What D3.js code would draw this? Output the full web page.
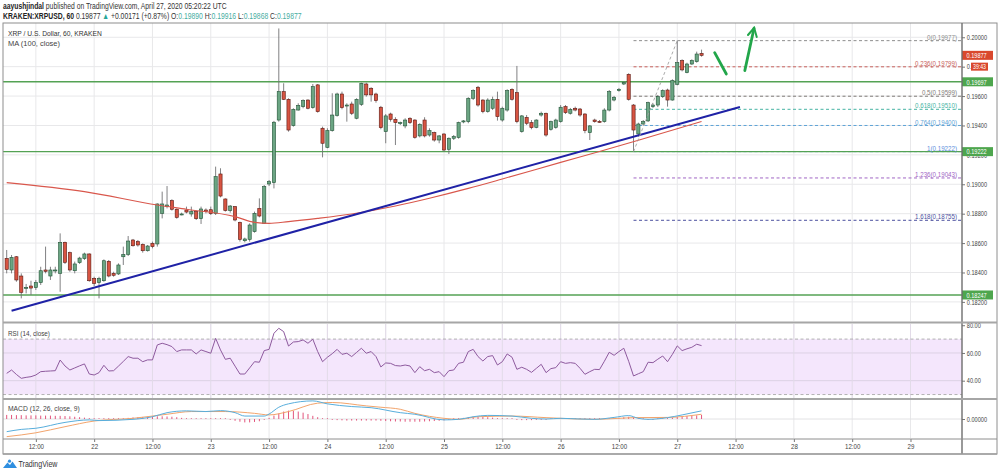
<!DOCTYPE html>
<html>
<head>
<meta charset="utf-8">
<script src="https://cdnjs.cloudflare.com/ajax/libs/d3/7.8.5/d3.min.js"></script>
<style>
  body { margin: 0; background: #fff; }
  svg { display: block; }
  text { font-family: "Liberation Sans", Arial, sans-serif; }
</style>
</head>
<body>
<svg id="chart" width="1000" height="474"></svg>
<script>
// hourly candles, first one is 2020-04-21 06:00 UTC
const firstCandle = Date.UTC(2020, 3, 21, 6);

const opens = [
  0.18496,0.18417,0.18507,0.18376,0.18292,0.18308,0.18297,0.18331,0.18417,0.18376,
  0.18412,0.18394,0.18605,0.18535,0.18412,0.18467,0.18494,0.18526,0.18360,0.18331,
  0.18344,0.18476,0.18394,0.18390,0.18507,0.18523,0.18621,0.18610,0.18591,0.18548,
  0.18598,0.18594,0.18802,0.18848,0.18889,0.18830,0.18798,0.18825,0.18798,0.18814,
  0.18766,0.18825,0.18827,0.18802,0.19070,0.18900,0.18821,0.18848,0.18741,0.18616,
  0.18625,0.18678,0.18836,0.18734,0.19002,0.19011,0.19437,0.19630,0.19578,0.19399,
  0.19505,0.19528,0.19573,0.19521,0.19676,0.19381,0.19251,0.19365,0.19469,0.19614,
  0.19535,0.19546,0.19449,0.19544,0.19682,0.19653,0.19614,0.19524,0.19358,0.19478,
  0.19442,0.19415,0.19397,0.19449,0.19437,0.19329,0.19437,0.19335,0.19351,0.19301,
  0.19342,0.19238,0.19313,0.19319,0.19424,0.19426,0.19585,0.19660,0.19573,0.19494,
  0.19517,0.19578,0.19437,0.19505,0.19646,0.19623,0.19358,0.19455,0.19419,0.19387,
  0.19471,0.19483,0.19374,0.19387,0.19426,0.19528,0.19483,0.19517,0.19512,0.19478,
  0.19351,0.19437,0.19428,0.19426,0.19505,0.19573,0.19637,0.19682,0.19748,0.19539,
  0.19342,0.19410,0.19431,0.19528,0.19539,0.19596,0.19641,0.19573,0.19680,0.19841,
  0.19759,0.19818,0.19834,0.19890
];
const highs = [
  0.18553,0.18519,0.18512,0.18394,0.18322,0.18344,0.18349,0.18439,0.18576,0.18439,
  0.18439,0.18666,0.18610,0.18542,0.18474,0.18507,0.18535,0.18530,0.18371,0.18371,
  0.18489,0.18485,0.18405,0.18462,0.18576,0.18648,0.18628,0.18621,0.18598,0.18587,
  0.18610,0.18870,0.18950,0.18988,0.18898,0.18836,0.18807,0.18848,0.18848,0.18821,
  0.18848,0.18836,0.18848,0.19120,0.19109,0.18904,0.18859,0.18852,0.18746,0.18637,
  0.18734,0.18814,0.18904,0.18995,0.19029,0.19431,0.20060,0.19687,0.19585,0.19517,
  0.19551,0.19578,0.19578,0.19682,0.19682,0.19392,0.19381,0.19619,0.19623,0.19630,
  0.19551,0.19562,0.19585,0.19691,0.19691,0.19660,0.19623,0.19533,0.19478,0.19487,
  0.19456,0.19426,0.19449,0.19456,0.19442,0.19415,0.19456,0.19381,0.19358,0.19335,
  0.19347,0.19319,0.19335,0.19426,0.19437,0.19592,0.19646,0.19669,0.19578,0.19585,
  0.19596,0.19630,0.19528,0.19646,0.19653,0.19805,0.19471,0.19471,0.19437,0.19442,
  0.19494,0.19487,0.19433,0.19446,0.19539,0.19539,0.19519,0.19528,0.19519,0.19483,
  0.19403,0.19446,0.19437,0.19517,0.19641,0.19601,0.19655,0.19700,0.19755,0.19546,
  0.19419,0.19437,0.19562,0.19551,0.19607,0.19646,0.19650,0.19714,0.19977,0.19850,
  0.19827,0.19850,0.19902,0.19916
];
const lows = [
  0.18394,0.18394,0.18337,0.18224,0.18258,0.18247,0.18281,0.18315,0.18394,0.18349,
  0.18394,0.18269,0.18458,0.18405,0.18394,0.18458,0.18485,0.18337,0.18308,0.18224,
  0.18337,0.18367,0.18371,0.18383,0.18451,0.18512,0.18576,0.18576,0.18535,0.18542,
  0.18564,0.18576,0.18768,0.18836,0.18821,0.18766,0.18789,0.18802,0.18780,0.18757,
  0.18730,0.18802,0.18791,0.18791,0.18911,0.18814,0.18807,0.18748,0.18610,0.18605,
  0.18610,0.18671,0.18775,0.18730,0.18988,0.18972,0.19426,0.19573,0.19358,0.19392,
  0.19501,0.19517,0.19510,0.19514,0.19487,0.19183,0.19245,0.19358,0.19460,0.19510,
  0.19426,0.19471,0.19442,0.19533,0.19596,0.19562,0.19555,0.19374,0.19279,0.19426,
  0.19267,0.19403,0.19381,0.19410,0.19310,0.19319,0.19319,0.19324,0.19290,0.19279,
  0.19222,0.19206,0.19301,0.19310,0.19415,0.19415,0.19573,0.19528,0.19483,0.19487,
  0.19505,0.19433,0.19426,0.19494,0.19569,0.19415,0.19351,0.19403,0.19374,0.19381,
  0.19460,0.19324,0.19365,0.19378,0.19419,0.19478,0.19474,0.19496,0.19460,0.19347,
  0.19301,0.19419,0.19419,0.19419,0.19496,0.19564,0.19630,0.19675,0.19569,0.19222,
  0.19324,0.19401,0.19424,0.19519,0.19525,0.19587,0.19528,0.19569,0.19673,0.19768,
  0.19755,0.19812,0.19827,0.19868
];
const closes = [
  0.18421,0.18503,0.18349,0.18265,0.18299,0.18294,0.18331,0.18412,0.18408,0.18417,
  0.18417,0.18605,0.18469,0.18417,0.18458,0.18498,0.18526,0.18344,0.18326,0.18360,
  0.18480,0.18376,0.18381,0.18451,0.18523,0.18614,0.18582,0.18587,0.18548,0.18580,
  0.18576,0.18866,0.18866,0.18859,0.18830,0.18775,0.18798,0.18811,0.18814,0.18766,
  0.18832,0.18814,0.18800,0.19052,0.18920,0.18821,0.18852,0.18757,0.18625,0.18628,
  0.18723,0.18802,0.18784,0.18984,0.19018,0.19422,0.19630,0.19578,0.19369,0.19510,
  0.19537,0.19569,0.19517,0.19664,0.19494,0.19279,0.19365,0.19471,0.19614,0.19521,
  0.19539,0.19483,0.19578,0.19687,0.19608,0.19608,0.19569,0.19385,0.19465,0.19442,
  0.19419,0.19419,0.19437,0.19419,0.19319,0.19408,0.19329,0.19365,0.19301,0.19329,
  0.19233,0.19313,0.19324,0.19419,0.19431,0.19585,0.19637,0.19539,0.19494,0.19573,
  0.19578,0.19460,0.19517,0.19637,0.19578,0.19426,0.19465,0.19415,0.19385,0.19437,
  0.19483,0.19335,0.19426,0.19437,0.19524,0.19487,0.19510,0.19505,0.19471,0.19365,
  0.19397,0.19426,0.19426,0.19505,0.19630,0.19592,0.19646,0.19691,0.19578,0.19369,
  0.19410,0.19426,0.19555,0.19539,0.19596,0.19637,0.19573,0.19705,0.19827,0.19778,
  0.19818,0.19841,0.19886,0.19877
];

// MA(100) at some candle indexes
const maIdx = [0,16,31,37,47,51,54,58,64,71,80,87,95,102,114,122,130,143];
const maVal = [0.19011,0.18950,0.18859,0.18830,0.18780,0.18741,0.18734,0.18746,0.18768,
  0.18798,0.18852,0.18905,0.18972,0.19036,0.19149,0.19223,0.19299,0.19427];

// RSI(14), one value per candle
const rsi = [
  45.3,47.7,44.5,41.7,42.4,42.9,44.1,46.5,46.8,47.0,
  47.2,54.9,50.6,47.7,49.2,50.7,52.1,44.8,44.1,45.8,
  51.1,47.0,47.2,50.5,53.9,57.4,56.2,56.2,53.7,55.0,
  55.0,65.8,67.0,66.0,64.6,61.0,62.2,62.2,62.2,59.3,
  62.2,61.0,59.8,70.6,62.2,55.4,56.2,50.5,44.8,44.8,
  49.2,53.7,53.3,61.7,62.6,74.2,77.8,75.4,65.0,67.9,
  68.2,69.4,67.0,69.9,61.0,53.7,56.9,59.5,62.6,59.0,
  59.8,57.4,60.4,63.4,59.8,61.0,57.4,49.9,52.8,52.5,
  50.9,50.6,51.3,50.6,45.8,50.1,47.2,48.2,45.8,46.5,
  42.9,47.2,47.7,52.5,53.3,61.0,62.6,57.4,54.2,57.4,
  58.1,51.3,53.7,59.3,56.9,48.2,49.7,48.2,46.0,48.9,
  51.8,45.8,48.7,49.4,53.7,52.5,53.0,52.5,48.9,44.6,
  46.5,48.2,48.0,54.0,60.5,58.3,61.0,63.4,54.0,43.4,
  45.0,46.5,53.3,53.0,55.5,57.8,53.7,59.0,65.1,61.7,
  63.0,64.1,66.3,65.3
];

// MACD(12,26,9) lines read at some candle indexes, histogram per candle
const macdIdx = [0,3,6,12,17,19,26,30,33,37,41,44,47,49,53,54,56,58,63,66,71,75,81,84,
  90,93,96,99,104,108,111,114,118,121,125,128,130,132,136,139,143];
const macdVal = [-0.00056,-0.00046,-0.00041,-0.00015,-0.00004,-0.00007,-0.000015,0.00010,
  0.00028,0.00036,0.00033,0.00037,0.00028,0.00013,0.00013,0.00022,0.00052,0.00067,0.00080,
  0.00067,0.00055,0.00050,0.00028,0.00021,-0.00004,-0.000015,0.00010,0.00016,0.00013,
  0.00003,0.00000,0.00003,0.00000,-0.000015,0.00007,0.00015,0.00003,-0.000015,0.00006,
  0.00018,0.00036];
const signalIdx = [0,6,12,18,26,33,38,45,51,54,58,64,67,74,77,81,84,90,93,97,104,111,114,
  121,126,129,136,143];
const signalVal = [-0.00078,-0.00061,-0.00034,-0.00009,0.00003,0.00021,0.00033,0.00033,
  0.00025,0.00018,0.00033,0.00070,0.00073,0.00058,0.00052,0.00043,0.00025,0.00003,
  -0.000015,0.00010,0.00013,0.00006,0.00003,-0.000015,0.00003,0.00006,0.00007,0.00021];
const hist = [
  18,18,17,17,16,16,16,15,15,15,14,
  14,13,12,10,8,6,4,
  2,2,1,1,1,2,2,
  5,7,8,9,10,11,12,12,11,10,8,
  5,3,1,0,-1,-1,-2,-1,0,-2,-4,
  -8,-12,-15,-15,-13,-10,
  -4,5,15,25,33,37,36,33,28,22,14,
  8,2,-2,-4,-5,-6,-7,-7,-7,-7,-7,-7,-7,-8,-9,-10,-11,
  -11,-12,-12,-12,-12,-11,-10,-9,-8,-6,
  -4,-2,1,5,8,10,10,9,8,6,
  3,0,-2,-3,-4,-5,-5,-5,-4,-4,-4,-3,-2,
  -1,-1,0,0,1,1,1,0,1,2,3,4,5,
  8,10,8,2,-3,-4,-4,
  -2,1,4,6,9,11,13,15,16,18
].map(v => v * 1e-5);

// horizontal support / resistance lines
const levels = [0.19697, 0.19222, 0.18247];

// fib retracement drawn from the low (candle 129) to the high (candle 138)
const fibFrom = 129, fibTo = 138;
const fibLevels = ['0', '0.236', '0.5', '0.618', '0.764', '1', '1.236', '1.618'];
const fibPrices = [0.19977, 0.19799, 0.19599, 0.19510, 0.19400, 0.19222, 0.19043, 0.18755];
const fibColors = ['#8d8d8d', '#c8605a', '#7e7a76', '#45b3a3', '#5ea3d6', '#5b8edc', '#a066c4', '#4b4f9e'];

// trend line and the two green arrows (candle index, price)
const trend = [[1, 0.18140], [150.9, 0.19526]];
const arrows = [
  { pts: [[145.7, 0.19895], [148.1, 0.19750]], head: false },
  { pts: [[151.9, 0.19773], [153.8, 0.20061]], head: true }
];

const priceTicks = [0.182, 0.184, 0.186, 0.188, 0.190, 0.192, 0.194, 0.196, 0.198, 0.200];
const lastPrice = 0.19877;
const countdown = '39:43';

// ---------------------------------------------------------------
const svg = d3.select('#chart');
const L = 3, R = 962;
const mainTop = 23, mainBot = 321;
const rsiTop = 324, rsiBot = 398;
const macdTop = 400, macdBot = 438;

const tAt = i => new Date(firstCandle + i * 3600e3);
const x = d3.scaleUtc().domain([tAt(-0.76), tAt(196.6)]).range([L, R]);
const y = d3.scaleLinear().domain([0.18070, 0.20097]).range([mainBot, mainTop]);
const yR = d3.scaleLinear().domain([27.5, 80.9]).range([rsiBot, rsiTop]);
const yM = d3.scaleLinear().domain([-0.00084, 0.00084]).range([macdBot, macdTop]);
const xi = i => x(tAt(i));

const defs = svg.append('defs');
[['clipMain', mainTop, mainBot], ['clipRsi', rsiTop, rsiBot], ['clipMacd', macdTop, macdBot]].forEach(c => {
  defs.append('clipPath').attr('id', c[0]).append('rect')
    .attr('x', L).attr('y', c[1]).attr('width', R - L).attr('height', c[2] - c[1]);
});
defs.append('marker').attr('id', 'head').attr('viewBox', '0 0 10 10')
  .attr('refX', 8).attr('refY', 5).attr('markerWidth', 4).attr('markerHeight', 4)
  .attr('orient', 'auto')
  .append('path').attr('d', 'M1,1 L8.5,5 L1,9').attr('fill', 'none')
  .attr('stroke', '#22a64a').attr('stroke-width', 1.8).attr('stroke-linecap', 'round');

svg.append('rect').attr('width', 1000).attr('height', 474).attr('fill', '#fff');

// squeezed text helper, the screenshot text is narrow
function label(parent, px, py, str, o = {}) {
  const g = parent.append('g');
  const t = g.append('text')
    .attr('font-size', o.size || 7)
    .attr('fill', o.color || '#444')
    .attr('font-weight', o.weight || 'normal')
    .attr('text-anchor', o.anchor || 'start')
    .attr('dominant-baseline', 'central')
    .text(str);
  let k = o.sx || 0.82;
  if (o.width) k = o.width / t.node().getComputedTextLength();
  g.attr('transform', `translate(${px},${py}) scale(${k},1)`);
  return g;
}

// grid
const timeTicks = d3.utcHour.every(12).range(tAt(-0.76), tAt(196.6));
const grid = svg.append('g').attr('stroke', '#e8e8ea').attr('stroke-width', 1);
[[mainTop, mainBot], [rsiTop, rsiBot], [macdTop, macdBot]].forEach(p => {
  grid.selectAll(null).data(timeTicks).enter().append('line')
    .attr('x1', d => x(d)).attr('x2', d => x(d)).attr('y1', p[0]).attr('y2', p[1]);
});
grid.selectAll(null).data(priceTicks).enter().append('line')
  .attr('x1', L).attr('x2', R).attr('y1', d => y(d)).attr('y2', d => y(d));

// ---------------- main pane
const main = svg.append('g').attr('clip-path', 'url(#clipMain)');

fibPrices.forEach((p, k) => {
  main.append('line').attr('x1', xi(fibFrom)).attr('x2', R)
    .attr('y1', y(p)).attr('y2', y(p))
    .attr('stroke', fibColors[k]).attr('stroke-width', 1).attr('stroke-dasharray', '3,2.5');
});

main.selectAll(null).data(levels).enter().append('line')
  .attr('x1', L).attr('x2', R).attr('y1', d => y(d)).attr('y2', d => y(d))
  .attr('stroke', '#54a254').attr('stroke-width', 1.4);

const candles = d3.range(closes.length).map(i => ({
  i, o: opens[i], h: highs[i], l: lows[i], c: closes[i]
}));
const bw = 3.2;
const cg = main.append('g');
cg.selectAll('line.wick').data(candles).enter().append('line')
  .attr('x1', d => xi(d.i)).attr('x2', d => xi(d.i))
  .attr('y1', d => y(d.h)).attr('y2', d => y(d.l))
  .attr('stroke', '#737375').attr('stroke-width', 0.9);
cg.selectAll('rect.body').data(candles).enter().append('rect')
  .attr('x', d => xi(d.i) - bw / 2)
  .attr('y', d => y(Math.max(d.o, d.c)))
  .attr('width', bw)
  .attr('height', d => Math.max(1, Math.abs(y(d.o) - y(d.c))))
  .attr('fill', d => d.c >= d.o ? '#6ba583' : '#d75442')
  .attr('stroke', d => d.c >= d.o ? '#225437' : '#5b1a13')
  .attr('stroke-width', 0.6);

main.append('path')
  .datum(maIdx.map((d, k) => [d, maVal[k]]))
  .attr('fill', 'none').attr('stroke', '#d9574c').attr('stroke-width', 1.1)
  .attr('d', d3.line().x(d => xi(d[0])).y(d => y(d[1])).curve(d3.curveMonotoneX));

main.append('path').datum(trend)
  .attr('fill', 'none').attr('stroke', '#1f22a6').attr('stroke-width', 2)
  .attr('d', d3.line().x(d => xi(d[0])).y(d => y(d[1])));

main.append('line')
  .attr('x1', xi(fibFrom)).attr('y1', y(fibPrices[5]))
  .attr('x2', xi(fibTo)).attr('y2', y(fibPrices[0]))
  .attr('stroke', '#a0a0a0').attr('stroke-width', 0.9).attr('stroke-dasharray', '3,2.5');

arrows.forEach(a => {
  main.append('path').datum(a.pts)
    .attr('fill', 'none').attr('stroke', '#22a64a').attr('stroke-width', 2.8)
    .attr('stroke-linecap', 'round')
    .attr('marker-end', a.head ? 'url(#head)' : null)
    .attr('d', d3.line().x(d => xi(d[0])).y(d => y(d[1])));
});

fibPrices.forEach((p, k) => {
  label(svg, 957, y(p) - 3.6, `${fibLevels[k]}(${p.toFixed(5)})`,
    { anchor: 'end', color: fibColors[k], sx: 0.86, size: 7.2 });
});

// ---------------- RSI pane
const rp = svg.append('g').attr('clip-path', 'url(#clipRsi)');
rp.append('rect').attr('x', L).attr('width', R - L)
  .attr('y', yR(70)).attr('height', yR(30) - yR(70)).attr('fill', '#f4e6fc');
[40, 60].forEach(v => rp.append('line').attr('x1', L).attr('x2', R)
  .attr('y1', yR(v)).attr('y2', yR(v)).attr('stroke', '#dcd2e4').attr('stroke-width', 1));
timeTicks.forEach(d => rp.append('line').attr('x1', x(d)).attr('x2', x(d))
  .attr('y1', rsiTop).attr('y2', rsiBot).attr('stroke', '#e2dbe8'));
[30, 70].forEach(v => rp.append('line').attr('x1', L).attr('x2', R)
  .attr('y1', yR(v)).attr('y2', yR(v)).attr('stroke', '#a9a9a9')
  .attr('stroke-width', 0.9).attr('stroke-dasharray', '3,2.5'));
rp.append('path').datum(rsi)
  .attr('fill', 'none').attr('stroke', '#8e5a9e').attr('stroke-width', 1)
  .attr('d', d3.line().x((d, i) => xi(i)).y(d => yR(d)));

// ---------------- MACD pane
const mp = svg.append('g').attr('clip-path', 'url(#clipMacd)');
mp.append('line').attr('x1', L).attr('x2', R).attr('y1', yM(0)).attr('y2', yM(0))
  .attr('stroke', '#e2e2e4');
mp.selectAll(null).data(hist).enter().append('line')
  .attr('x1', (d, i) => xi(i)).attr('x2', (d, i) => xi(i))
  .attr('y1', yM(0)).attr('y2', d => Math.abs(yM(d) - yM(0)) < 0.8 ? yM(0) - 0.8 : yM(d))
  .attr('stroke', '#e2557c').attr('stroke-width', 1);
mp.append('path').datum(signalIdx.map((d, k) => [d, signalVal[k]]))
  .attr('fill', 'none').attr('stroke', '#f2a46c').attr('stroke-width', 1)
  .attr('d', d3.line().x(d => xi(d[0])).y(d => yM(d[1])).curve(d3.curveMonotoneX));
mp.append('path').datum(macdIdx.map((d, k) => [d, macdVal[k]]))
  .attr('fill', 'none').attr('stroke', '#58aedc').attr('stroke-width', 1)
  .attr('d', d3.line().x(d => xi(d[0])).y(d => yM(d[1])).curve(d3.curveMonotoneX));

// ---------------- axes
function styleAxis(g, sx) {
  g.select('.domain').remove();
  g.selectAll('.tick line').attr('stroke', '#777');
  g.selectAll('.tick text').attr('font-size', 7).attr('fill', '#444')
    .attr('font-family', '"Liberation Sans", Arial, sans-serif')
    .attr('transform', `scale(${sx},1)`);
}
const ax = svg.append('g').attr('transform', `translate(${R},0)`)
  .call(d3.axisRight(y).tickValues(priceTicks).tickFormat(d3.format('.5f')).tickSize(3).tickPadding(3));
styleAxis(ax, 0.8);
const axR = svg.append('g').attr('transform', `translate(${R},0)`)
  .call(d3.axisRight(yR).tickValues([40, 60, 80]).tickFormat(d3.format('.2f')).tickSize(3).tickPadding(3));
styleAxis(axR, 0.8);
const axM = svg.append('g').attr('transform', `translate(${R},0)`)
  .call(d3.axisRight(yM).tickValues([0]).tickFormat(() => '0.00000').tickSize(3).tickPadding(3));
styleAxis(axM, 0.8);
const axX = svg.append('g').attr('transform', `translate(0,${macdBot + 1})`)
  .call(d3.axisBottom(x).tickValues(timeTicks)
    .tickFormat(d => d.getUTCHours() === 0 ? String(d.getUTCDate()) : '12:00')
    .tickSize(3).tickPadding(2));
styleAxis(axX, 0.88);

// axis price boxes
levels.forEach(p => {
  svg.append('rect').attr('x', R).attr('y', y(p) - 4.5).attr('width', 31).attr('height', 9)
    .attr('fill', '#4ea64e');
  label(svg, R + 4.5, y(p), p.toFixed(5), { color: '#fff', sx: 0.8 });
});
svg.append('rect').attr('x', R).attr('y', y(lastPrice) - 4.5).attr('width', 31).attr('height', 9)
  .attr('fill', '#d9482d');
label(svg, R + 4.5, y(lastPrice), lastPrice.toFixed(5), { color: '#fff', sx: 0.8 });
svg.append('rect').attr('x', 971).attr('y', y(0.198) - 4).attr('width', 17).attr('height', 8)
  .attr('fill', '#d9482d');
label(svg, 973, y(0.198), countdown, { color: '#fff', sx: 0.8, size: 6.5 });

// ---------------- frame
const frame = svg.append('g').attr('fill', 'none');
frame.append('rect').attr('x', L).attr('y', mainTop).attr('width', 994).attr('height', 431)
  .attr('stroke', '#8e8e8e').attr('stroke-width', 1);
frame.append('line').attr('x1', R).attr('x2', R).attr('y1', mainTop).attr('y2', 454)
  .attr('stroke', '#6e6e6e').attr('stroke-width', 1.4);
[[322.5, 2, '#a6a6a6'], [399, 2, '#a6a6a6'], [439, 1, '#8e8e8e'], [454, 1.6, '#a0a0a0']].forEach(s => {
  frame.append('line').attr('x1', L).attr('x2', 997).attr('y1', s[0]).attr('y2', s[0])
    .attr('stroke', s[2]).attr('stroke-width', s[1]);
});

// ---------------- legends
label(svg, 8, 33.3, 'XRP / U.S. Dollar, 60, KRAKEN', { color: '#333', size: 8, width: 94 });
label(svg, 8, 43.3, 'MA (100, close)', { color: '#444', size: 8, width: 52 });
label(svg, 8, 333.3, 'RSI (14, close)', { color: '#444', size: 8, width: 42 });
label(svg, 8, 408.5, 'MACD (12, 26, close, 9)', { color: '#444', size: 8, width: 72 });

// header lines built from tspans, then squeezed to the measured width
function header(py, parts, width) {
  const g = svg.append('g');
  const t = g.append('text').attr('font-size', 8.5).attr('dominant-baseline', 'central');
  parts.forEach(p => t.append('tspan').text(p[0]).attr('fill', p[1]).attr('font-weight', p[2] || 'normal'));
  const k = width / t.node().getComputedTextLength();
  g.attr('transform', `translate(3,${py}) scale(${k},1)`);
}
header(6, [
  ['aayushjindal', '#222', 'bold'],
  [' published on TradingView.com, April 27, 2020 05:20:22 UTC', '#333']
], 224);
const teal = '#47ad9f';
header(15.8, [
  ['KRAKEN:XRPUSD, 60', '#222', 'bold'],
  [' 0.19877 ', '#333'], ['▲', '#26a69a'], [' +0.00171 (+0.87%) ', '#333'],
  ['O:', '#333'], ['0.19890', teal], [' H:', '#333'], ['0.19916', teal],
  [' L:', '#333'], ['0.19868', teal], [' C:', '#333'], ['0.19877', teal]
], 299);

// TradingView mark
svg.append('path')
  .attr('d', 'M3,468 L7.5,462.5 L10,465 L12.5,461.5 L17,468 Z')
  .attr('fill', '#2f8fe0');
svg.append('circle').attr('cx', 9.5).attr('cy', 461.2).attr('r', 1.6).attr('fill', '#2f8fe0');
label(svg, 18.5, 464.5, 'TradingView', { color: '#333', size: 8.5, width: 39 });
</script>
</body>
</html>
